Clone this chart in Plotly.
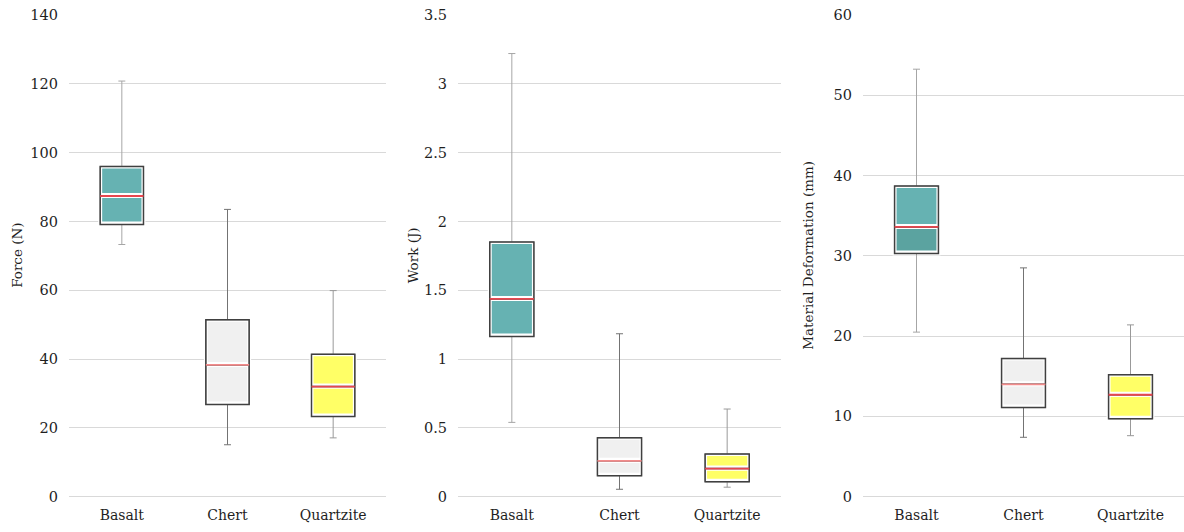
import plotly.graph_objects as go

# Categories shared by the three panels
categories = ["Basalt", "Chert", "Quartzite"]

# Force (N): five-number summaries per material
force_min = [73.3, 15.1, 17.1]
force_q1 = [79.1, 26.8, 23.3]
force_median = [87.4, 38.3, 32.0]
force_q3 = [96.0, 51.4, 41.4]
force_max = [120.8, 83.5, 59.9]

# Work (J)
work_min = [0.54, 0.054, 0.069]
work_q1 = [1.164, 0.153, 0.108]
work_median = [1.437, 0.261, 0.204]
work_q3 = [1.851, 0.428, 0.31]
work_max = [3.22, 1.184, 0.637]

# Material deformation (mm)
deform_min = [20.5, 7.4, 7.6]
deform_q1 = [30.3, 11.1, 9.7]
deform_median = [33.6, 14.0, 12.7]
deform_q3 = [38.7, 17.2, 15.2]
deform_max = [53.25, 28.5, 21.4]

# Axis titles and tick settings per panel
axis_titles = ["Force (N)", "Work (J)", "Material Deformation (mm)"]
y_ranges = [[0, 140], [0, 3.5], [0, 60]]
y_dticks = [20, 0.5, 10]

# Styling
upper_fill = ["#66b2b2", "#f0f0f0", "#ffff66"]
lower_fill_by_panel = [
    ["#66b2b2", "#f0f0f0", "#ffff66"],
    ["#66b2b2", "#f0f0f0", "#ffff66"],
    ["#5ba3a0", "#f0f0f0", "#ffff66"],
]
whisker_color = ["#a6a6a6", "#737373", "#999999"]
median_color = ["#e8474f", "#f28b8b", "#e8474f"]
outline_color = "#404040"
grid_color = "#d9d9d9"
text_color = "#1f1f1f"
font_family = "DejaVu Serif"

W, H = 1184, 532
x_domains = [[69 / W, 386 / W], [458 / W, 781 / W], [863 / W, 1.0]]
y_domain = [35.3 / H, 517 / H]
title_x = [17, 412.5, 808]

panels = [
    (force_min, force_q1, force_median, force_q3, force_max),
    (work_min, work_q1, work_median, work_q3, work_max),
    (deform_min, deform_q1, deform_median, deform_q3, deform_max),
]

BOX_WIDTH = 0.41
CLEAR = "rgba(0,0,0,0)"

fig = go.Figure()

for i, (lo, q1, med, q3, hi) in enumerate(panels):
    xa = "x" if i == 0 else f"x{i + 1}"
    ya = "y" if i == 0 else f"y{i + 1}"
    for j, cat in enumerate(categories):
        common = dict(
            x=[cat], xaxis=xa, yaxis=ya, width=BOX_WIDTH,
            showlegend=False, hoverinfo="skip", boxpoints=False,
        )
        # lower half of the box (q1 -> median), white inner edge
        fig.add_trace(go.Box(
            q1=[q1[j]], median=[q1[j]], q3=[med[j]],
            lowerfence=[q1[j]], upperfence=[med[j]],
            fillcolor=lower_fill_by_panel[i][j],
            line=dict(color="white", width=4), whiskerwidth=0, **common))
        # upper half of the box (median -> q3)
        fig.add_trace(go.Box(
            q1=[med[j]], median=[med[j]], q3=[q3[j]],
            lowerfence=[med[j]], upperfence=[q3[j]],
            fillcolor=upper_fill[j],
            line=dict(color="white", width=4), whiskerwidth=0, **common))
        # whiskers with caps
        fig.add_trace(go.Box(
            q1=[q1[j]], median=[med[j]], q3=[q3[j]],
            lowerfence=[lo[j]], upperfence=[hi[j]],
            fillcolor=CLEAR,
            line=dict(color=whisker_color[j], width=1), whiskerwidth=0.16,
            **common))
        # dark outline of the interquartile box
        fig.add_trace(go.Box(
            q1=[q1[j]], median=[med[j]], q3=[q3[j]],
            lowerfence=[q1[j]], upperfence=[q3[j]],
            fillcolor=CLEAR,
            line=dict(color=outline_color, width=1.5), whiskerwidth=0,
            **common))
        # median line
        fig.add_trace(go.Box(
            q1=[med[j]], median=[med[j]], q3=[med[j]],
            lowerfence=[med[j]], upperfence=[med[j]],
            fillcolor=CLEAR,
            line=dict(color=median_color[j], width=1.8), whiskerwidth=0,
            **common))

layout = dict(
    width=W, height=H,
    margin=dict(l=0, r=0, t=0, b=0, autoexpand=False),
    plot_bgcolor="white", paper_bgcolor="white",
    boxmode="overlay",
    font=dict(family=font_family, size=14, color=text_color),
)

annotations = []
for i in range(3):
    sx = "" if i == 0 else str(i + 1)
    layout[f"xaxis{sx}"] = dict(
        domain=x_domains[i], anchor=f"y{sx}", type="category",
        categoryorder="array", categoryarray=categories,
        range=[-0.5, len(categories) - 0.5],
        showgrid=False, showline=False, zeroline=False, ticks="",
        automargin=False,
        tickfont=dict(family=font_family, size=14, color=text_color),
        ticklabelstandoff=8,
    )
    layout[f"yaxis{sx}"] = dict(
        domain=y_domain, anchor=f"x{sx}",
        range=y_ranges[i], dtick=y_dticks[i], tick0=0,
        showgrid=True, gridcolor=grid_color, gridwidth=1,
        zeroline=True, zerolinecolor=grid_color, zerolinewidth=1,
        showline=False, ticks="", automargin=False,
        tickfont=dict(family=font_family, size=14.5, color=text_color),
        ticklabelstandoff=10,
    )
    annotations.append(dict(
        text=axis_titles[i], textangle=-90,
        xref="paper", yref="paper",
        x=title_x[i] / W, y=(y_domain[0] + y_domain[1]) / 2,
        xanchor="center", yanchor="middle", showarrow=False,
        font=dict(family=font_family, size=13.5, color=text_color),
    ))

layout["annotations"] = annotations
fig.update_layout(**layout)

fig.write_html("out.html")
